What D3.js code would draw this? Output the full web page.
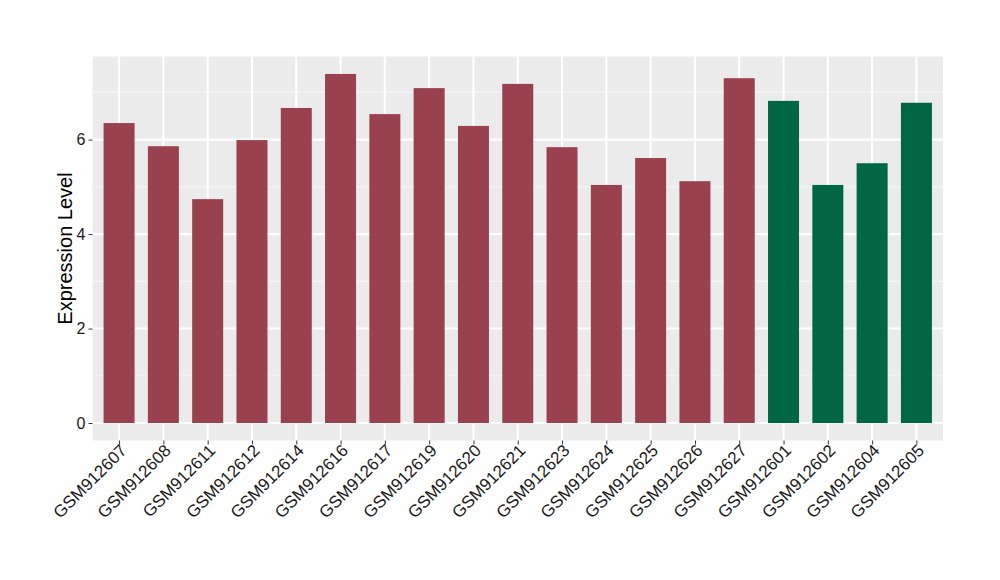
<!DOCTYPE html>
<html><head><meta charset="utf-8">
<script src="https://cdn.jsdelivr.net/npm/d3@7"></script>
<style>body{margin:0;background:#fff;} svg{display:block;}</style>
</head><body>
<svg id="chart" width="1000" height="580"></svg>
<script>
const categories = ["GSM912607","GSM912608","GSM912611","GSM912612","GSM912614","GSM912616","GSM912617","GSM912619","GSM912620","GSM912621","GSM912623","GSM912624","GSM912625","GSM912626","GSM912627","GSM912601","GSM912602","GSM912604","GSM912605"];
const values = [6.35,5.86,4.74,5.99,6.67,7.39,6.54,7.09,6.29,7.18,5.84,5.04,5.61,5.12,7.30,6.82,5.04,5.50,6.78];
const groups = ["A","A","A","A","A","A","A","A","A","A","A","A","A","A","A","B","B","B","B"];
const groupColors = {A:"#9A4150", B:"#016644"};
const yTicks = [0,2,4,6];
const yMinor = [1,3,5,7];
const yTitle = "Expression Level";

const svg = d3.select("#chart");
const L = 92.5, R = 943, T = 56.5, B = 440.5;
const maxV = d3.max(values);
const n = categories.length;
const step = (R - L) / (n - 1 + 1.2);
const xc = d3.scalePoint().domain(categories).range([L + 0.6*step, R - 0.6*step]);
const bw = step * 0.7;
const y = d3.scaleLinear().domain([-0.05*maxV, maxV*1.05]).range([B, T]);
const font = "Liberation Sans, Arial, Helvetica, sans-serif";

svg.append("rect").attr("x", L).attr("y", T).attr("width", R-L).attr("height", B-T).attr("fill", "#EBEBEB");
svg.append("g").selectAll("line").data(yMinor.filter(v => y(v) > T)).join("line")
  .attr("x1", L).attr("x2", R).attr("y1", d => y(d)).attr("y2", d => y(d))
  .attr("stroke", "#F5F5F5").attr("stroke-width", 1.1);
svg.append("g").selectAll("line").data(yTicks).join("line")
  .attr("x1", L).attr("x2", R).attr("y1", d => y(d)).attr("y2", d => y(d))
  .attr("stroke", "#FFFFFF").attr("stroke-width", 2.1);
svg.append("g").selectAll("line").data(categories).join("line")
  .attr("x1", d => xc(d)).attr("x2", d => xc(d)).attr("y1", T).attr("y2", B)
  .attr("stroke", "#FFFFFF").attr("stroke-width", 2.1);

svg.append("g").selectAll("rect").data(categories).join("rect")
  .attr("x", d => xc(d) - bw/2).attr("width", bw)
  .attr("y", (d,i) => y(values[i])).attr("height", (d,i) => y(0) - y(values[i]))
  .attr("fill", (d,i) => groupColors[groups[i]]);

const yAxis = d3.axisLeft(y).tickValues(yTicks).tickSize(4).tickPadding(3).tickFormat(d3.format("d"));
const gy = svg.append("g").attr("transform", `translate(${L},0)`).call(yAxis);
gy.select(".domain").remove();
gy.selectAll(".tick line").attr("stroke", "#333333").attr("stroke-width", 1);
gy.selectAll(".tick text").attr("fill", "#1A1A1A").attr("font-size", 16).attr("font-family", font);

const xAxis = d3.axisBottom(xc).tickSize(4).tickPadding(2);
const gx = svg.append("g").attr("transform", `translate(0,${B})`).call(xAxis);
gx.select(".domain").remove();
gx.selectAll(".tick line").attr("stroke", "#333333").attr("stroke-width", 1);
gx.selectAll(".tick text").attr("fill", "#1A1A1A").attr("font-size", 17).attr("font-family", font)
  .attr("text-anchor", "end").attr("dy", null).attr("y", 0)
  .attr("transform", "translate(5,8) rotate(-45)").attr("dominant-baseline", "middle");

svg.append("text").attr("transform", `translate(72,${(T+B)/2}) rotate(-90)`)
  .attr("text-anchor", "middle").attr("font-size", 20).attr("fill", "#000")
  .attr("font-family", font).text(yTitle);
</script>
</body></html>
